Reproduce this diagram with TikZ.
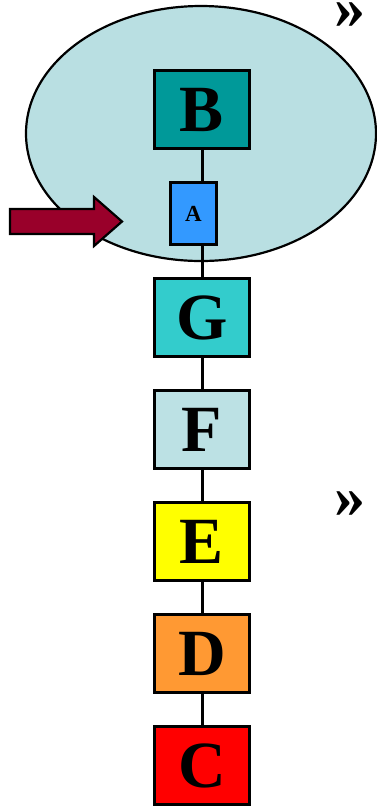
\documentclass[tikz,border=0pt]{standalone}
\usepackage{fontspec}
\setmainfont{Liberation Serif}
\usepackage{tikz}
\usetikzlibrary{calc}
\definecolor{hullblue}{HTML}{B9DFE2}
\definecolor{bteal}{HTML}{009999}
\definecolor{ablue}{HTML}{3399FF}
\definecolor{gcyan}{HTML}{33CCCC}
\definecolor{fpale}{HTML}{BCE1E4}
\definecolor{eyellow}{HTML}{FFFF00}
\definecolor{dorange}{HTML}{FF9933}
\definecolor{cred}{HTML}{FF0000}
\definecolor{pointred}{HTML}{99002A}
\tikzset{
  letterbox/.style={draw=black,line width=2.5pt,minimum width=95pt,minimum height=78pt,inner sep=0pt,font=\fontsize{66}{66}\selectfont\bfseries},
  smallbox/.style={draw=black,line width=2.5pt,minimum width=46pt,minimum height=62pt,inner sep=0pt,font=\fontsize{23}{23}\selectfont\bfseries},
  link/.style={line width=3pt},
  quotemark/.style={font=\fontsize{62}{62}\selectfont\bfseries,inner sep=0pt}
}
\begin{document}
\begin{tikzpicture}[x=1pt,y=-1pt] %Kette
		\useasboundingbox (0,0) rectangle (377,807);
		\filldraw[fill=hullblue,line width=2.2pt] (201,133.5) ellipse (175 and 127.5);
		\node[quotemark] (q1) at (350,16) {»};
		\node[quotemark] (q2) at (350,505) {»};
		\node[letterbox,fill=bteal] (B) at (202,109.5) {B};
		\node[smallbox,fill=ablue] (A) at (193.5,213.5) {A};
		\node[letterbox,fill=gcyan] (G) at (202,317.5) {G};
		\node[letterbox,fill=fpale] (F) at (202,429.5) {F};
		\node[letterbox,fill=eyellow] (E) at (202,541.5) {E};
		\node[letterbox,fill=dorange] (D) at (202,653.5) {D};
		\node[letterbox,fill=cred] (C) at (202,765.5) {C};
		\draw[link] (B.south) -- (B.south |- A.north);
		\draw[link] (A.south -| G.north) -- (G.north);
		\draw[link] (G) -- (F);
		\draw[link] (F) -- (E);
		\draw[link] (E) -- (D);
		\draw[link] (D) -- (C);
		\filldraw[fill=pointred,line width=2.2pt] (10,209) -- (94,209) -- (94,197) -- (122,221.5) -- (94,246) -- (94,234) -- (10,234) -- cycle;
		\end{tikzpicture}
\end{document}
